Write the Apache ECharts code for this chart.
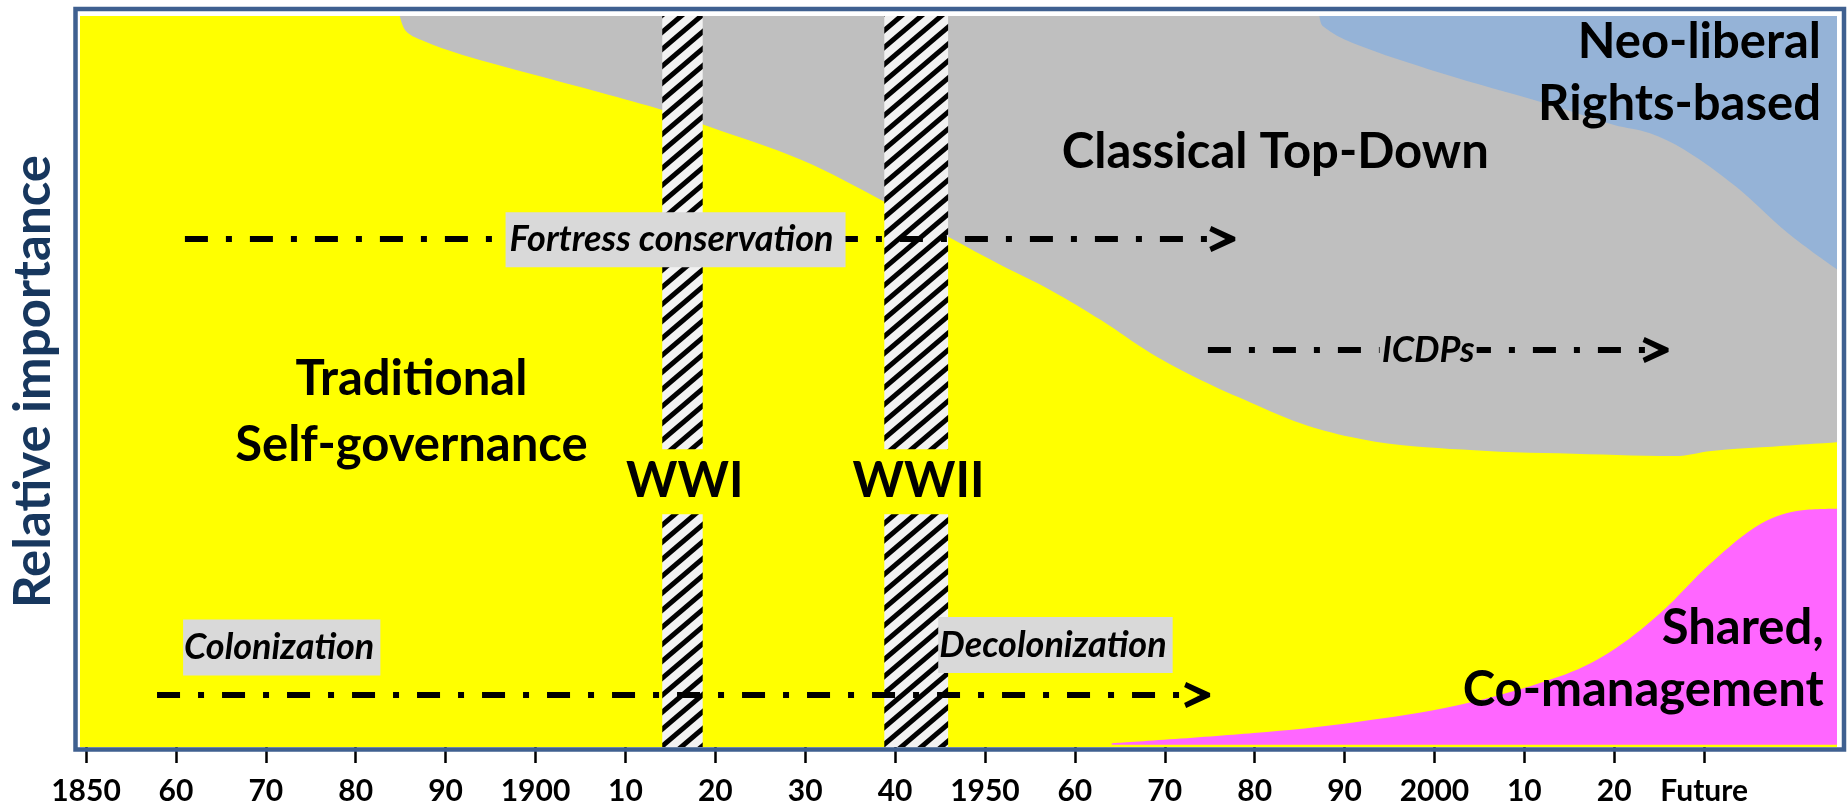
<!DOCTYPE html>
<html>
<head>
<meta charset="utf-8">
<script src="https://cdn.jsdelivr.net/npm/echarts@6/dist/echarts.min.js"></script>
<style>
  html, body { margin: 0; padding: 0; background: #fff; }
  #chart { width: 1847px; height: 812px; }
</style>
</head>
<body>
<div id="chart"></div>
<script>
// x axis ticks
const tickYears = [1850, 1860, 1870, 1880, 1890, 1900, 1910, 1920, 1930, 1940,
  1950, 1960, 1970, 1980, 1990, 2000, 2010, 2020, 2030];
const tickLabels = ['1850', '60', '70', '80', '90', '1900', '10', '20', '30', '40',
  '1950', '60', '70', '80', '90', '2000', '10', '20', 'Future'];

// boundaries: [year, relative importance 0-100]
const classicalEdge = [
  [1884.9, 100], [1885.6, 97.9], [1887.3, 96.7], [1891.8, 94.7], [1907.3, 89.5],
  [1914.2, 87.1], [1918.8, 85.1], [1929.6, 80.3], [1938.8, 74.6], [1945.9, 69.8],
  [1951.8, 65.9], [1957.3, 62.5], [1962.9, 58.4], [1968.4, 53.9], [1974.0, 50.2],
  [1979.6, 47.1], [1985.1, 44.3], [1990.7, 42.4], [1996.2, 41.3], [2007.3, 40.4],
  [2013.8, 40.2], [2026.8, 39.8], [2030.8, 40.5], [2036.4, 41.0], [2044.8, 41.7]
];
const neoliberalEdge = [
  [1987.2, 100], [1987.6, 98.6], [1990.9, 96.3], [2000.7, 92.2], [2012.2, 88.1],
  [2020.0, 85.1], [2023.9, 84.0], [2027.8, 81.7], [2033.6, 76.6], [2039.3, 70.3],
  [2044.8, 65.3]
];
const sharedEdge = [
  [1964.1, 0.5], [1979.9, 1.9], [1991.2, 3.4], [2002.6, 5.7], [2013.8, 9.6],
  [2019.4, 12.9], [2025.1, 18.3], [2030.8, 25.2], [2036.4, 30.6], [2040.9, 32.4],
  [2044.8, 32.6]
];

// world wars [start, end]
const wars = [[1914.1, 1918.6], [1938.8, 1945.9]];

// dash-dot arrows: [startYear, endYear, level]
const arrows = [
  [1861.0, 1976.4, 69.5],   // fortress conservation
  [1974.8, 2024.6, 54.3],   // ICDPs
  [1857.9, 1973.6, 7.1]     // colonization / decolonization
];

const xMin = 1849.33, xMax = 2044.78;

function hatchPattern() {
  const w = 20, h = 17;
  const c = document.createElement('canvas');
  c.width = w; c.height = h;
  const g = c.getContext('2d');
  g.fillStyle = '#f2f2f2';
  g.fillRect(0, 0, w, h);
  g.strokeStyle = '#000';
  g.lineWidth = 5;
  for (let k = 0; k <= 2; k++) {
    g.beginPath();
    g.moveTo((k - 1) * w - w / 2, h + h / 2);
    g.lineTo(k * w + w / 2, -h / 2);
    g.stroke();
  }
  return { image: c, repeat: 'repeat' };
}
const hatch = hatchPattern();

const chevron = 'path://M2,0 L26,11 L26,15 L2,26 L0,21 L16,13 L0,5 Z';

const bold = { fontFamily: 'Lato', fontWeight: 'bold', color: '#000', opacity: 1 };
const boxLabel = Object.assign({}, bold, {
  fontStyle: 'italic', fontSize: 36, lineHeight: 42,
  backgroundColor: '#d9d9d9', align: 'left', verticalAlign: 'middle'
});

const notes = [
  { value: [1886.2, 45.8], label: Object.assign({}, bold, {
      formatter: 'Traditional\nSelf-governance', fontSize: 49, lineHeight: 66,
      align: 'center', verticalAlign: 'middle' }) },
  { value: [1982.3, 81.4], label: Object.assign({}, bold, {
      formatter: 'Classical Top-Down', fontSize: 49, align: 'center', verticalAlign: 'middle' }) },
  { value: [2043.0, 92.2], label: Object.assign({}, bold, {
      formatter: 'Neo-liberal\nRights-based', fontSize: 49, lineHeight: 62,
      align: 'right', verticalAlign: 'middle' }) },
  { value: [2043.3, 12.0], label: Object.assign({}, bold, {
      formatter: 'Shared,\nCo-management', fontSize: 49, lineHeight: 62,
      align: 'right', verticalAlign: 'middle' }) },
  { value: [1916.6, 36.3], label: Object.assign({}, bold, {
      formatter: 'WWI', fontSize: 49, lineHeight: 57, padding: [4, 6],
      backgroundColor: '#ffff00', align: 'center', verticalAlign: 'middle' }) },
  { value: [1942.6, 36.3], label: Object.assign({}, bold, {
      formatter: 'WWII', fontSize: 49, lineHeight: 57, padding: [4, 6],
      backgroundColor: '#ffff00', align: 'center', verticalAlign: 'middle' }) },
  { value: [1896.67, 69.4], label: Object.assign({}, boxLabel, {
      formatter: 'Fortress conservation', padding: [7, 12, 6, 4] }) },
  { value: [1860.8, 13.6], label: Object.assign({}, boxLabel, {
      formatter: 'Colonization', padding: [7, 6, 7, 1] }) },
  { value: [1944.8, 13.95], label: Object.assign({}, boxLabel, {
      formatter: 'Decolonization', padding: [7, 6, 7, 1] }) },
  { value: [1999.3, 54.3], label: Object.assign({}, boxLabel, {
      formatter: 'ICDPs', backgroundColor: '#bfbfbf', padding: [0, 2],
      align: 'center' }) }
];

function area(name, data, color, origin, z) {
  return {
    name, type: 'line', data, z,
    smooth: 0.35, showSymbol: false, silent: true,
    lineStyle: { width: 0 },
    areaStyle: { color, opacity: 1, origin }
  };
}

const arrowSeries = arrows.map((a, i) => ({
  name: 'arrow' + i, type: 'line', z: 6, silent: true,
  data: [
    { value: [a[0], a[2]], symbol: 'none' },
    { value: [a[1], a[2]], symbol: chevron, symbolSize: [26, 26] }
  ],
  showSymbol: true, showAllSymbol: true,
  itemStyle: { color: '#000', opacity: 1 },
  lineStyle: { color: '#000', width: 6, type: [23, 18, 6, 18], cap: 'butt' }
}));

const chart = echarts.init(document.getElementById('chart'));
chart.setOption({
  backgroundColor: '#ffffff',
  animation: false,
  grid: {
    left: 78, right: 10, top: 16, bottom: 65,
    show: true, backgroundColor: '#ffff00', borderWidth: 0
  },
  xAxis: {
    type: 'value', min: xMin, max: xMax,
    axisLine: { show: false },
    splitLine: { show: false },
    axisTick: {
      show: true, customValues: tickYears, length: 16,
      lineStyle: { color: '#000', width: 2.5 }
    },
    axisLabel: {
      customValues: tickYears, margin: 29,
      fontFamily: 'Lato', fontWeight: 'bold', fontSize: 30, color: '#000',
      formatter: v => tickLabels[tickYears.indexOf(Math.round(v))]
    }
  },
  yAxis: {
    type: 'value', min: 0, max: 100,
    axisLine: { show: false }, axisTick: { show: false },
    axisLabel: { show: false }, splitLine: { show: false },
    name: 'Relative importance', nameLocation: 'middle', nameRotate: 90, nameGap: 21,
    nameTextStyle: { fontFamily: 'Lato', fontWeight: 'bold', fontSize: 51, color: '#17375e' }
  },
  graphic: [{
    type: 'rect', z: 100, silent: true,
    shape: { x: 75.5, y: 9, width: 1768.5, height: 740.5 },
    style: { fill: 'transparent', stroke: '#3f6090', lineWidth: 4.5 }
  }],
  series: [
    area('Classical Top-Down', classicalEdge, '#bfbfbf', 'end', 2),
    area('Neo-liberal Rights-based', neoliberalEdge, '#95b3d7', 'end', 3),
    area('Shared, Co-management', sharedEdge, '#ff66ff', 0.3, 3),
    {
      name: 'wars', type: 'custom', z: 5, silent: true,
      data: wars,
      renderItem: (params, api) => {
        const p0 = api.coord([api.value(0), 100]);
        const p1 = api.coord([api.value(1), 0]);
        return {
          type: 'rect',
          shape: { x: p0[0], y: p0[1], width: p1[0] - p0[0], height: p1[1] - p0[1] },
          style: { fill: hatch }
        };
      }
    },
    ...arrowSeries,
    {
      name: 'notes', type: 'scatter', z: 8, silent: true,
      symbolSize: 0,
      itemStyle: { opacity: 1 },
      label: { show: true, position: [0, 0], opacity: 1 },
      data: notes
    }
  ]
});
</script>
</body>
</html>
